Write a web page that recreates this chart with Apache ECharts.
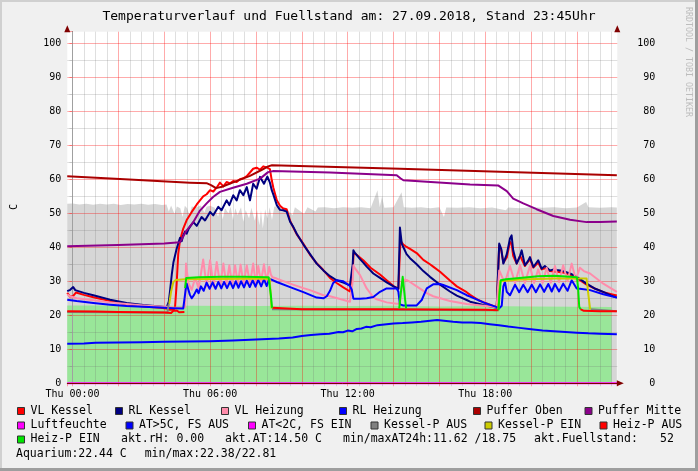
<!DOCTYPE html>
<html><head><meta charset="utf-8">
<script src="https://cdn.jsdelivr.net/npm/echarts@6/dist/echarts.min.js"></script>
<style>html,body{margin:0;padding:0;background:#f0f0f0}#c{width:698px;height:471px}</style>
</head><body><div id="c"></div>
<script>
// ---------- data (hours since Thu 00:00, value in C) ----------
const xMin = -0.227, xMax = 23.76, yMax = 103.4;
const timeLabels = {0:'Thu 00:00', 6:'Thu 06:00', 12:'Thu 12:00', 18:'Thu 18:00'};
const titleText = 'Temperaturverlauf und Fuellstand am: 27.09.2018, Stand 23:45Uhr';
const yAxisName = 'C';
const watermark = 'RRDTOOL / TOBI OETIKER';

const fuellstand = [[-0.23,52.8],[0.0,52.9],[0.3,52.6],[0.6,52.8],[0.9,52.5],[1.2,52.8],[1.5,52.6],[1.8,52.8],[2.1,52.4],[2.4,52.7],[2.7,52.6],[3.0,52.8],[3.3,52.5],[3.6,52.7],[3.9,52.4],[4.1,52.6],[4.2,50.5],[4.3,52.3],[4.45,49.8],[4.55,52.0],[4.7,51.5],[4.8,48.9],[4.9,52.2],[5.0,51.5],[5.1,49.5],[5.2,52.0],[5.4,51.8],[5.6,52.3],[5.75,50.2],[5.85,51.9],[6.0,52.2],[6.2,51.6],[6.35,49.0],[6.45,51.8],[6.55,48.2],[6.65,51.5],[6.8,50.0],[6.9,51.9],[7.0,47.9],[7.1,51.5],[7.2,49.5],[7.35,51.8],[7.45,47.5],[7.55,51.0],[7.7,48.5],[7.8,51.6],[7.95,47.8],[8.05,51.0],[8.15,46.5],[8.22,51.0],[8.3,45.5],[8.4,51.2],[8.5,48.5],[8.6,51.8],[8.7,48.0],[8.8,52.0],[9.0,51.9],[9.3,51.6],[9.6,49.4],[9.7,51.8],[10.1,49.8],[10.25,51.8],[10.6,50.5],[10.7,51.7],[11.0,51.8],[11.4,51.5],[11.8,51.8],[12.2,51.6],[12.6,51.8],[13.0,51.5],[13.3,56.8],[13.4,51.8],[13.5,55.0],[13.6,51.6],[14.0,51.8],[14.35,56.2],[14.45,51.8],[14.8,51.6],[15.2,51.8],[15.6,51.5],[16.0,51.8],[16.2,48.9],[16.3,51.7],[16.8,51.6],[17.3,51.8],[17.8,51.5],[18.3,51.7],[18.9,50.9],[19.0,51.7],[19.5,51.5],[20.0,51.8],[20.5,51.6],[21.0,51.8],[21.5,51.5],[22.0,51.7],[22.4,53.3],[22.5,51.8],[23.0,51.6],[23.5,51.8],[23.74,51.7]];

const aquarium = [[-0.23,22.9],[1.0,22.9],[3.0,22.8],[5.0,22.8],[8.0,22.7],[10.0,22.8],[12.0,22.7],[14.0,22.8],[16.0,22.6],[18.0,22.7],[20.0,22.6],[22.0,22.5],[23.51,22.44]];

const vlKessel = [[-0.23,26.6],[-0.11,25.5],[0.03,25.7],[0.15,26.7],[0.5,26.0],[0.91,25.3],[1.64,24.2],[2.36,23.2],[3.09,22.6],[3.82,22.2],[4.11,22.0],[4.25,21.6],[4.4,21.6],[4.47,22.2],[4.54,29.0],[4.61,38.0],[4.69,42.1],[4.83,45.5],[4.98,48.0],[5.2,50.4],[5.42,52.6],[5.56,53.8],[5.7,55.0],[5.85,55.6],[6.0,56.8],[6.14,56.4],[6.29,57.6],[6.43,59.0],[6.58,57.9],[6.72,59.2],[6.87,58.8],[7.01,59.5],[7.16,59.2],[7.3,60.0],[7.45,60.3],[7.6,60.9],[7.74,62.0],[7.88,63.1],[8.03,63.4],[8.18,62.8],[8.32,63.8],[8.47,63.5],[8.54,64.0],[8.61,63.0],[8.69,59.7],[8.76,57.5],[8.91,53.8],[9.05,52.2],[9.19,51.4],[9.34,51.2],[9.49,47.8],[9.63,45.8],[9.78,43.8],[10.07,41.0],[10.36,37.8],[10.65,35.3],[10.94,33.3],[11.23,31.0],[11.52,29.5],[11.81,28.2],[12.1,27.0],[12.18,26.9],[12.22,33.0],[12.26,38.3],[12.35,38.0],[12.68,36.2],[13.0,34.0],[13.41,32.0],[13.7,30.3],[14.0,28.6],[14.21,27.8],[14.25,34.0],[14.3,42.0],[14.43,40.8],[14.57,40.1],[14.72,39.5],[15.01,38.3],[15.3,36.3],[15.59,35.0],[15.73,34.3],[16.03,32.8],[16.46,30.2],[16.76,28.5],[17.19,26.8],[17.34,26.0],[17.7,24.5],[18.0,23.6],[18.5,22.4],[18.57,22.3],[18.61,40.6],[18.7,39.0],[18.79,35.5],[18.94,37.0],[19.08,41.6],[19.15,41.0],[19.22,37.5],[19.37,35.2],[19.52,37.5],[19.59,38.0],[19.73,34.5],[19.95,36.5],[20.1,34.0],[20.31,35.5],[20.46,33.5],[20.68,34.0],[20.82,33.0],[21.12,32.8],[21.4,32.6],[21.7,32.0],[21.99,31.0],[22.42,29.0],[22.8,27.8],[23.15,26.8],[23.5,26.2],[23.74,25.8]];

const rlKessel = [[-0.23,27.1],[-0.1,27.5],[0.03,28.3],[0.12,27.4],[0.18,27.1],[0.5,26.6],[0.91,25.9],[1.64,24.6],[2.36,23.6],[3.09,23.0],[3.82,22.6],[4.11,22.4],[4.16,22.3],[4.2,24.0],[4.25,27.0],[4.33,32.0],[4.4,35.5],[4.47,37.5],[4.54,39.5],[4.61,41.1],[4.69,42.8],[4.76,41.8],[4.83,43.5],[4.91,44.6],[4.98,44.0],[5.05,45.2],[5.12,46.0],[5.27,47.4],[5.42,46.3],[5.63,48.9],[5.78,47.9],[6.0,50.4],[6.14,49.4],[6.36,51.9],[6.5,50.9],[6.72,53.8],[6.84,52.4],[7.01,55.3],[7.16,53.8],[7.3,56.8],[7.45,55.3],[7.6,57.7],[7.74,53.8],[7.88,58.7],[8.03,57.2],[8.18,60.7],[8.35,58.7],[8.5,60.8],[8.61,59.0],[8.69,56.8],[8.76,55.5],[8.91,52.4],[9.05,51.0],[9.19,50.9],[9.34,50.5],[9.49,47.5],[9.63,46.0],[9.78,44.0],[10.07,40.8],[10.36,38.0],[10.65,35.2],[10.94,33.2],[11.23,31.5],[11.52,30.3],[11.81,29.6],[12.1,28.8],[12.18,28.6],[12.22,35.0],[12.25,39.1],[12.3,38.5],[12.54,36.5],[12.68,35.5],[12.83,34.3],[13.12,32.3],[13.41,31.0],[13.7,29.7],[14.0,28.5],[14.21,27.8],[14.25,38.0],[14.28,45.8],[14.31,44.0],[14.36,41.1],[14.43,40.0],[14.57,38.0],[14.72,36.8],[15.01,35.0],[15.3,33.0],[15.59,31.3],[16.03,29.0],[16.46,27.0],[16.76,25.8],[17.19,24.5],[17.34,24.0],[17.92,23.0],[18.5,22.2],[18.57,22.0],[18.61,41.1],[18.7,39.5],[18.79,35.2],[18.94,38.0],[19.08,42.6],[19.15,43.5],[19.22,39.1],[19.37,35.2],[19.52,37.5],[19.59,39.1],[19.73,34.7],[19.87,36.0],[19.95,37.1],[20.1,34.2],[20.31,36.2],[20.46,33.7],[20.6,34.5],[20.68,34.4],[20.82,33.2],[21.0,33.5],[21.12,33.3],[21.4,33.0],[21.7,32.3],[21.99,31.3],[22.42,29.3],[22.8,27.8],[23.15,26.9],[23.5,25.8],[23.74,25.2]];

const vlHeizung = [[-0.23,26.2],[-0.11,25.6],[0.18,25.0],[0.91,24.4],[1.64,23.8],[2.36,23.3],[3.09,22.9],[3.82,22.6],[4.11,22.5],[4.4,22.3],[4.69,22.2],[4.91,22.4],[4.95,35.2],[5.05,29.5],[5.2,27.5],[5.35,31.0],[5.5,28.0],[5.7,36.4],[5.85,28.5],[6.0,36.2],[6.15,28.5],[6.29,35.7],[6.44,28.8],[6.58,35.2],[6.71,29.0],[6.84,34.7],[6.96,29.0],[7.09,34.7],[7.21,29.2],[7.33,34.9],[7.46,29.2],[7.6,34.7],[7.74,29.3],[7.88,35.2],[7.99,29.5],[8.1,34.5],[8.22,29.8],[8.35,35.0],[8.46,30.0],[8.58,34.3],[8.65,32.0],[8.72,31.2],[8.91,30.8],[9.49,29.3],[10.07,28.0],[10.36,27.4],[10.94,25.9],[11.23,25.6],[11.67,24.8],[12.1,24.0],[12.18,23.5],[12.22,30.0],[12.25,34.7],[12.3,34.0],[12.54,31.8],[12.83,27.9],[13.12,25.3],[13.27,24.7],[13.7,23.8],[14.14,23.4],[14.28,23.4],[14.36,28.5],[14.5,30.5],[14.6,30.3],[14.72,29.8],[15.01,28.5],[15.45,26.5],[15.73,25.6],[16.46,24.2],[17.19,23.3],[17.92,22.8],[18.5,22.4],[18.57,22.4],[18.61,33.2],[18.85,29.5],[19.08,34.5],[19.3,29.5],[19.52,34.7],[19.73,29.5],[19.95,34.5],[20.13,29.5],[20.31,33.5],[20.5,29.5],[20.68,34.0],[20.86,29.6],[21.04,34.5],[21.22,29.8],[21.4,34.7],[21.59,30.0],[21.77,35.2],[21.95,30.5],[22.13,34.0],[22.3,33.0],[22.57,32.3],[23.15,29.3],[23.74,26.9]];

const rlHeizung = [[-0.23,24.6],[0.18,24.2],[0.91,23.6],[1.64,23.1],[2.36,22.7],[3.09,22.5],[3.82,22.3],[4.4,22.1],[4.83,22.0],[4.91,22.1],[4.95,28.3],[4.98,29.3],[5.12,26.0],[5.2,25.0],[5.3,26.0],[5.42,27.6],[5.5,26.5],[5.6,28.5],[5.72,27.2],[5.85,29.6],[5.98,27.8],[6.11,29.7],[6.24,27.8],[6.36,29.8],[6.49,27.9],[6.61,29.8],[6.74,28.0],[6.87,29.9],[7.0,28.0],[7.12,30.0],[7.24,28.1],[7.35,30.0],[7.48,28.2],[7.6,30.2],[7.73,28.3],[7.86,30.3],[7.98,28.4],[8.1,30.4],[8.23,28.5],[8.35,30.6],[8.47,28.6],[8.58,30.8],[8.65,30.5],[8.91,29.8],[9.49,28.3],[10.07,26.8],[10.65,25.2],[10.94,25.0],[11.09,25.6],[11.23,27.2],[11.37,29.5],[11.52,30.3],[11.81,30.0],[12.1,28.6],[12.18,27.5],[12.25,24.9],[12.54,24.9],[12.83,25.0],[13.12,25.4],[13.41,26.9],[13.7,27.9],[14.14,27.9],[14.21,27.0],[14.28,23.2],[14.43,22.9],[15.01,22.9],[15.23,24.5],[15.45,27.9],[15.73,29.1],[16.03,29.2],[16.17,28.9],[16.76,27.4],[17.19,25.9],[17.34,25.5],[17.92,23.8],[18.5,22.4],[18.61,22.1],[18.72,22.8],[18.79,28.5],[18.86,29.8],[18.94,26.9],[19.08,25.9],[19.3,29.0],[19.48,26.8],[19.66,29.0],[19.85,26.8],[20.03,29.0],[20.21,26.8],[20.39,29.1],[20.57,26.9],[20.75,29.2],[20.9,27.0],[21.04,29.2],[21.22,27.0],[21.4,29.3],[21.59,27.2],[21.77,30.3],[21.99,27.9],[22.13,27.8],[22.57,27.4],[23.15,26.2],[23.74,25.2]];

const pufferOben = [[-0.23,60.9],[2.07,60.1],[5.12,59.0],[5.87,58.8],[6.04,58.3],[6.26,57.4],[6.52,57.8],[7.09,59.3],[7.74,61.0],[8.26,62.8],[8.53,63.8],[8.7,64.1],[14.28,63.1],[18.64,62.2],[23.74,61.2]];

const pufferMitte = [[-0.23,40.3],[2.0,40.7],[4.0,41.1],[4.69,41.5],[4.98,45.0],[5.27,47.4],[5.56,50.8],[5.85,52.9],[6.13,54.8],[6.43,56.3],[7.0,57.5],[7.6,58.7],[8.18,60.2],[8.53,62.1],[8.74,62.4],[11.23,62.0],[14.14,61.2],[14.3,60.3],[14.43,59.7],[17.34,58.5],[18.56,58.2],[18.94,56.5],[19.22,54.3],[19.66,52.9],[20.24,51.2],[20.97,49.2],[21.7,48.1],[22.42,47.4],[23.0,47.4],[23.74,47.6]];

const luftfeuchte = [[-0.23,0],[6,0],[12,0],[18,0],[23.76,0]];

const aussenTemp = [[-0.23,11.6],[0.5,11.7],[1.0,11.9],[2.0,12.0],[3.0,12.1],[4.0,12.2],[5.0,12.3],[6.0,12.4],[7.0,12.6],[8.0,12.9],[9.0,13.2],[9.6,13.5],[10.0,13.9],[10.4,14.2],[10.8,14.4],[11.2,14.6],[11.6,15.1],[11.8,15.0],[12.0,15.5],[12.2,15.3],[12.4,16.0],[12.6,16.1],[12.8,16.6],[13.0,16.5],[13.3,17.1],[13.6,17.3],[14.0,17.6],[14.4,17.7],[14.8,17.9],[15.2,18.1],[15.6,18.4],[15.9,18.6],[16.2,18.4],[16.6,18.1],[17.0,17.9],[17.4,17.9],[17.8,17.7],[18.2,17.4],[18.6,17.1],[19.0,16.7],[19.5,16.3],[20.0,15.9],[20.5,15.5],[21.0,15.3],[21.5,15.1],[22.0,14.9],[22.5,14.7],[23.0,14.6],[23.74,14.4]];

const kesselPAus = [[-0.23,21.0],[4.14,20.8],[4.2,23.4],[4.22,null],[8.68,null],[8.7,21.8],[18.5,21.5],[18.57,21.8],[18.6,null],[22.55,null],[22.6,21.8],[23.74,21.2]];
const kesselPEin = [[4.22,23.4],[4.3,27.0],[4.4,29.8],[4.5,30.4],[4.9,30.6],[8.6,30.8],[8.68,22.0],[8.7,null],[18.5,null],[18.57,21.8],[18.65,30.0],[19.5,30.5],[21.0,30.8],[22.42,30.8],[22.5,26.0],[22.57,22.0],[22.6,21.8]];
const heizPAus = [[-0.23,21.2],[1.0,21.1],[2.0,21.0],[3.0,20.9],[4.0,20.8],[4.3,20.7],[4.4,21.3],[4.55,21.4],[4.65,20.9],[4.88,21.0],[4.9,null],[8.7,null],[8.72,22.2],[8.8,21.8],[10.0,21.8],[12.1,21.8],[12.18,22.2],[12.25,21.8],[14.0,21.8],[16.0,21.7],[18.0,21.6],[18.58,21.5],[18.6,null],[22.1,null],[22.15,21.8],[22.3,21.3],[23.0,21.2],[23.74,21.2]];
const heizPEin = [[4.91,28.0],[4.96,31.0],[5.5,31.2],[6.5,31.3],[7.5,31.3],[8.55,31.2],[8.6,31.0],[8.65,26.0],[8.7,22.4],[8.72,22.2],[8.8,null],[14.2,null],[14.25,22.0],[14.3,25.5],[14.4,31.3],[14.5,25.0],[14.55,22.0],[14.6,null],[18.5,null],[18.58,21.5],[18.62,26.0],[18.68,30.3],[18.9,30.6],[19.5,31.0],[20.3,31.5],[21.0,31.6],[21.7,31.3],[22.0,31.2],[22.05,28.0],[22.1,22.5],[22.15,21.8]];

const legendNames = ['VL Kessel','RL Kessel','VL Heizung','RL Heizung','Puffer Oben','Puffer Mitte','Luftfeuchte','AT>5C, FS AUS','AT<2C, FS EIN','Kessel-P AUS','Kessel-P EIN','Heiz-P AUS','Heiz-P EIN'];
const infoTexts = ['akt.rH: 0.00','akt.AT:14.50 C','min/maxAT24h:11.62 /18.75','akt.Fuellstand:','52','Aquarium:22.44 C','min/max:22.38/22.81'];

// ---------- styles / layout ----------
const MONO = '"DejaVu Sans Mono", "Liberation Mono", monospace';
const colors = {
  vlKessel:'#ff0000', rlKessel:'#000080', vlHeizung:'#ff8cab', rlHeizung:'#0000ff',
  pufferOben:'#aa0000', pufferMitte:'#8b008b', luft:'#ff00ff', at5:'#0000ff', at2:'#ff00ff',
  kAus:'#808080', kEin:'#cccc00', hAus:'#ff0000', hEin:'#00e600', fuell:'#d6d6d6', aqua:'#99e699'
};
const legendColors = [colors.vlKessel,colors.rlKessel,colors.vlHeizung,colors.rlHeizung,colors.pufferOben,colors.pufferMitte,colors.luft,colors.at5,colors.at2,colors.kAus,colors.kEin,colors.hAus,colors.hEin];
const legendBoxPos = [[17,411],[115,411],[221,411],[339,411],[473,411],[584.5,411],[17,425.5],[125.5,425.5],[248,425.5],[370.5,425.5],[484.5,425.5],[599.5,425.5],[17,439.5]];
const infoPos = [[121,439.5],[225,439.5],[343,439.5],[534,439.5],[660,439.5],[16,454],[144.7,454]];

const G = {left:67.3, right:80.7, top:31.7, bottom:87.7};
const majorCol = 'rgba(255,0,0,0.33)', minorCol = 'rgba(110,110,110,0.22)';

function lineSeries(name, data, color, extra) {
  return Object.assign({
    name, type:'line', data, symbol:'none', showSymbol:false, connectNulls:false,
    lineStyle:{color, width:2, join:'round'}, itemStyle:{color}, z:4, silent:true, animation:false
  }, extra || {});
}
function areaSeries(name, data, color) {
  return {name, type:'line', data, symbol:'none', showSymbol:false, lineStyle:{width:0, color}, itemStyle:{color},
    areaStyle:{color, opacity:1, origin:'start'}, z:2, silent:true, animation:false};
}

const graphics = [];
// frame
graphics.push({type:'rect', shape:{x:0,y:0,width:698,height:2}, style:{fill:'#d0d0d0'}});
graphics.push({type:'rect', shape:{x:0,y:0,width:2,height:471}, style:{fill:'#d0d0d0'}});
graphics.push({type:'rect', shape:{x:695,y:0,width:3,height:471}, style:{fill:'#9e9e9e'}});
graphics.push({type:'rect', shape:{x:0,y:468,width:698,height:3}, style:{fill:'#9e9e9e'}});
graphics.push({type:'text', x:349, y:16.5, style:{text:titleText, fontFamily:MONO, fontSize:13, fill:'#000', textAlign:'center', textVerticalAlign:'middle'}});
graphics.push({type:'text', x:14, y:207, rotation:Math.PI/2, style:{text:yAxisName, fontFamily:MONO, fontSize:10, fill:'#000', textAlign:'center', textVerticalAlign:'middle'}});
graphics.push({type:'text', x:688, y:62, rotation:-Math.PI/2, style:{text:watermark, fontFamily:MONO, fontSize:8.3, fill:'#bdbdbd', textAlign:'center', textVerticalAlign:'middle'}});
legendNames.forEach((n,i)=>{
  const [bx,cy] = legendBoxPos[i];
  graphics.push({type:'rect', shape:{x:bx+0.5,y:cy-3.5,width:7,height:7}, style:{fill:legendColors[i], stroke:'#333', lineWidth:1}});
  graphics.push({type:'text', x:bx+13.5, y:cy, style:{text:n, fontFamily:MONO, fontSize:11.5, fill:'#000', textVerticalAlign:'middle'}});
});
infoTexts.forEach((t,i)=>{
  graphics.push({type:'text', x:infoPos[i][0], y:infoPos[i][1], style:{text:t, fontFamily:MONO, fontSize:11.5, fill:'#000', textVerticalAlign:'middle'}});
});

const yBase = {type:'value', min:0, max:yMax, interval:10};
const option = {
  animation:false,
  backgroundColor:'#f0f0f0',
  grid:{left:G.left, right:G.right, top:G.top, bottom:G.bottom, show:true, backgroundColor:'#ffffff', borderWidth:0, containLabel:false, outerBoundsMode:'none'},
  xAxis:[
    {type:'value', min:xMin, max:xMax, minInterval:2, maxInterval:2, splitNumber:12, z:3,
     axisLine:{show:false},
     axisTick:{show:true, length:3, lineStyle:{color:majorCol}},
     minorTick:{show:true, splitNumber:4, length:3, lineStyle:{color:minorCol}},
     splitLine:{show:true, showMinLine:false, showMaxLine:false, lineStyle:{color:majorCol, width:1}},
     minorSplitLine:{show:true, lineStyle:{color:minorCol, width:1}},
     axisLabel:{margin:6, fontFamily:MONO, fontSize:10, color:'#000',
       formatter:v=>{const r=Math.round(v); return (Math.abs(v-r)<1e-6 && timeLabels[r]) ? timeLabels[r] : '';}}},
    {type:'value', min:xMin, max:xMax, z:6, position:'bottom',
     axisLine:{show:true, lineStyle:{color:'#800000', width:1}, symbol:['none','triangle'], symbolSize:[6,7], symbolOffset:[0,3]},
     axisTick:{show:false}, axisLabel:{show:false}, splitLine:{show:false}}
  ],
  yAxis:[
    Object.assign({}, yBase, {position:'left', z:3,
     axisLine:{show:true, lineStyle:{color:'#505050', width:1}},
     axisTick:{show:true, length:3, lineStyle:{color:majorCol}},
     minorTick:{show:true, splitNumber:2, length:3, lineStyle:{color:minorCol}},
     splitLine:{show:true, showMinLine:false, showMaxLine:false, lineStyle:{color:majorCol, width:1}},
     minorSplitLine:{show:true, lineStyle:{color:minorCol, width:1}},
     axisLabel:{margin:6, fontFamily:MONO, fontSize:10, color:'#000',
       formatter:v=>(Math.abs(v%10)<1e-6 && v<=100.0001) ? String(Math.round(v)) : ''}}),
    Object.assign({}, yBase, {position:'right', z:3,
     axisLine:{show:true, lineStyle:{color:'#a0a0a0', width:1}},
     axisTick:{show:false}, splitLine:{show:false},
     axisLabel:{margin:38, align:'right', fontFamily:MONO, fontSize:10, color:'#000',
       formatter:v=>(Math.abs(v%10)<1e-6 && v<=100.0001) ? String(Math.round(v)) : ''}}),
    Object.assign({}, yBase, {position:'left', z:6,
     axisLine:{show:true, lineStyle:{color:'#800000', width:0}, symbol:['none','triangle'], symbolSize:[6,7], symbolOffset:[0,3]},
     axisTick:{show:false}, axisLabel:{show:false}, splitLine:{show:false}}),
    Object.assign({}, yBase, {position:'right', z:6,
     axisLine:{show:true, lineStyle:{color:'#800000', width:0}, symbol:['none','triangle'], symbolSize:[6,7], symbolOffset:[0,3]},
     axisTick:{show:false}, axisLabel:{show:false}, splitLine:{show:false}})
  ],
  graphic:{elements:graphics},
  series:[
    areaSeries('Fuellstand', fuellstand, colors.fuell),
    areaSeries('Aquarium', aquarium, colors.aqua),
    lineSeries('VL Kessel', vlKessel, colors.vlKessel),
    lineSeries('RL Kessel', rlKessel, colors.rlKessel),
    lineSeries('VL Heizung', vlHeizung, colors.vlHeizung),
    lineSeries('RL Heizung', rlHeizung, colors.rlHeizung),
    lineSeries('Puffer Oben', pufferOben, colors.pufferOben),
    lineSeries('Puffer Mitte', pufferMitte, colors.pufferMitte),
    lineSeries('Luftfeuchte', luftfeuchte, colors.luft, {clip:false}),
    lineSeries('AT>5C, FS AUS', aussenTemp, colors.at5),
    lineSeries('Kessel-P AUS', kesselPAus, colors.kAus),
    lineSeries('Kessel-P EIN', kesselPEin, colors.kEin),
    lineSeries('Heiz-P AUS', heizPAus, colors.hAus),
    lineSeries('Heiz-P EIN', heizPEin, colors.hEin)
  ]
};
const chart = echarts.init(document.getElementById('c'), null, {renderer:'canvas', width:698, height:471});
chart.setOption(option);
</script></body></html>
